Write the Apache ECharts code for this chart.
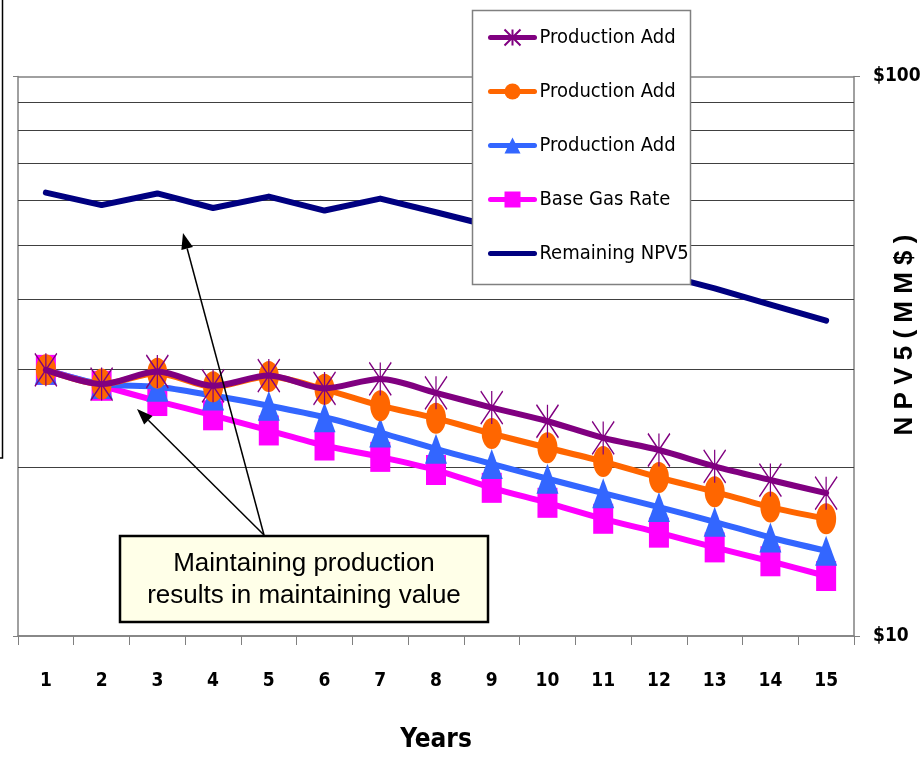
<!DOCTYPE html>
<html><head><meta charset="utf-8">
<script src="https://cdn.jsdelivr.net/npm/echarts@6/dist/echarts.min.js"></script>
<style>html,body{margin:0;padding:0;background:#fff}#c{width:920px;height:759px}</style>
</head><body><div id="c"></div>
<script>
// ---- data ----
const years = ['1','2','3','4','5','6','7','8','9','10','11','12','13','14','15'];
const prodAdd1 = [29.9, 28.2, 29.7, 28.0, 29.2, 27.7, 28.8, 27.2, 25.6, 24.2, 22.6, 21.5, 20.1, 19.0, 18.0];
const prodAdd2 = [29.9, 28.2, 29.5, 27.9, 29.1, 27.6, 25.8, 24.5, 23.0, 21.7, 20.5, 19.2, 18.1, 17.0, 16.2];
const prodAdd3 = [29.9, 28.2, 27.9, 26.9, 25.8, 24.6, 23.1, 21.6, 20.3, 19.1, 18.0, 17.0, 16.0, 15.0, 14.2];
const baseGas  = [29.9, 28.0, 26.3, 24.8, 23.3, 21.9, 20.9, 19.8, 18.4, 17.3, 16.2, 15.3, 14.4, 13.6, 12.8];
const npv5     = [62.0, 58.9, 61.8, 58.2, 61.0, 57.6, 60.5, 57.2, 54.0, 50.4, 47.6, 44.4, 41.8, 39.1, 36.6];
const minorGridValues = [20, 30, 40, 50, 60, 70, 80, 90];
const yMin = 10, yMax = 100;
const seriesNames = ['Production Add #1', 'Production Add #2', 'Production Add #3', 'Base Gas Rate', 'Remaining NPV5'];
const noteText = 'Maintaining production\nresults in maintaining value';
const yAxisTitle = 'N P V 5 ( M M $ )';
const xAxisTitle = 'Years';

// ---- styles ----
const NARROW = '"Liberation Sans Narrow","Arial Narrow","DejaVu Sans Condensed",sans-serif';
const SANS = '"Liberation Sans",Arial,sans-serif';
const asterisk = 'path://M0 0L20 32M20 0L0 32M10 0L10 32';
const noSymbol = 'path://M0 0L10 10';

const chart = echarts.init(document.getElementById('c'), null, {renderer: 'canvas'});

function lineSeries(name, data, color, symbol, size, z, extra) {
  return Object.assign({
    name, type: 'line', data, yAxisIndex: 1, z,
    symbol, symbolSize: size, showSymbol: true,
    smooth: 0.3,
    lineStyle: {color, width: 6, cap: 'round', join: 'round'},
    itemStyle: {color, borderColor: color, borderWidth: 0},
    emphasis: {disabled: true},
    animation: false
  }, extra || {});
}

function arrow(x1, y1, x2, y2) {
  const dx = x2 - x1, dy = y2 - y1, L = Math.sqrt(dx*dx + dy*dy);
  const ux = dx / L, uy = dy / L, nx = -uy, ny = ux;
  const hl = 16, hw = 6;
  const bx = x2 - hl * ux, by = y2 - hl * uy;
  return [
    {type: 'line', z: 15, shape: {x1, y1, x2: bx, y2: by}, style: {stroke: '#000', lineWidth: 1.5}},
    {type: 'polygon', z: 15, shape: {points: [[x2, y2], [bx + hw*nx, by + hw*ny], [bx - hw*nx, by - hw*ny]]}, style: {fill: '#000'}}
  ];
}

const option = {
  animation: false,
  backgroundColor: '#fff',
  grid: {left: 18, right: 66, top: 76.5, bottom: 123, containLabel: false, outerBoundsMode: 'none'},
  xAxis: {
    type: 'category', data: years, boundaryGap: true,
    axisLine: {show: true, lineStyle: {color: '#808080', width: 1.5}},
    axisTick: {show: true, length: 9, inside: false, interval: 0, lineStyle: {color: '#808080', width: 1}},
    axisLabel: {interval: 0, margin: 36, fontFamily: NARROW, fontWeight: 'bold', fontSize: 19, color: '#000'},
    splitLine: {show: false},
    name: xAxisTitle, nameLocation: 'middle', nameGap: 91,
    nameTextStyle: {fontFamily: NARROW, fontWeight: 'bold', fontSize: 26, color: '#000'}
  },
  yAxis: [
    {
      type: 'log', logBase: 10, min: yMin, max: yMax, position: 'left',
      axisLine: {show: true, lineStyle: {color: '#808080', width: 1.5}},
      axisTick: {show: true, length: 5, inside: false, lineStyle: {color: '#808080'}},
      axisLabel: {show: false}, splitLine: {show: false}
    },
    {
      type: 'log', logBase: 10, min: yMin, max: yMax, position: 'right',
      axisLine: {show: true, lineStyle: {color: '#808080', width: 1.5}},
      axisTick: {show: true, length: 6, inside: false, lineStyle: {color: '#808080'}},
      axisLabel: {margin: 19, fontFamily: NARROW, fontWeight: 'bold', fontSize: 19, color: '#000',
        formatter: v => '$' + Math.round(v)},
      splitLine: {show: true, lineStyle: {color: '#808080', width: 1.5}}
    }
  ],
  legend: {
    data: seriesNames, orient: 'vertical', left: 472, top: 10.5,
    padding: [15, 10, 10, 16], itemWidth: 44, itemHeight: 20, itemGap: 30,
    textStyle: {fontFamily: NARROW, fontSize: 20, color: '#000', lineHeight: 24},
    lineStyle: {width: 5},
    formatter: n => n.replace(/ #\d$/, ''),
    selectedMode: false, z: 20
  },
  series: [
    lineSeries(seriesNames[4], npv5, '#000080', noSymbol, 1, 2, {smooth: false, showSymbol: false,
      lineStyle: {color: '#000080', width: 6, cap: 'round', join: 'round'}}),
    lineSeries(seriesNames[3], baseGas, '#FF00FF', 'rect', [20, 30], 3, {
      markLine: {
        silent: true, symbol: ['none', 'none'], z: 1, animation: false,
        label: {show: false}, emphasis: {disabled: true},
        lineStyle: {color: '#404040', width: 1, type: 'solid'},
        data: minorGridValues.map(v => ({yAxis: v}))
      }
    }),
    lineSeries(seriesNames[2], prodAdd3, '#3366FF', 'triangle', [22, 30], 4),
    lineSeries(seriesNames[1], prodAdd2, '#FF6600', 'circle', [20, 31], 5),
    lineSeries(seriesNames[0], prodAdd1, '#800080', asterisk, [22, 33], 6, {
      itemStyle: {color: '#800080', borderColor: '#800080', borderWidth: 1.5}
    })
  ],
  graphic: [
    {type: 'rect', z: 10, shape: {x: 472.5, y: 10.5, width: 218, height: 274},
      style: {fill: '#fff', stroke: '#808080', lineWidth: 1.5}},
    {type: 'polyline', z: 10, shape: {points: [[2.5, 0], [2.5, 458], [-2, 458]]},
      style: {stroke: '#000', lineWidth: 1.5, fill: null}},
    {type: 'rect', z: 15, shape: {x: 120, y: 536, width: 368, height: 86},
      style: {fill: '#FFFFE8', stroke: '#000', lineWidth: 2.5}},
    {type: 'text', z: 16, x: 304, y: 580,
      style: {text: noteText, font: '26px ' + SANS, fill: '#000', textAlign: 'center', textVerticalAlign: 'middle', lineHeight: 32}},
    ...arrow(264, 535, 183, 233),
    ...arrow(264, 535, 137, 409),
    {type: 'text', z: 16, x: 905, y: 335, rotation: Math.PI / 2,
      style: {text: yAxisTitle, font: 'bold 26px ' + SANS, fill: '#000', textAlign: 'center', textVerticalAlign: 'middle'}}
  ]
};
chart.setOption(option);
</script>
</body></html>
